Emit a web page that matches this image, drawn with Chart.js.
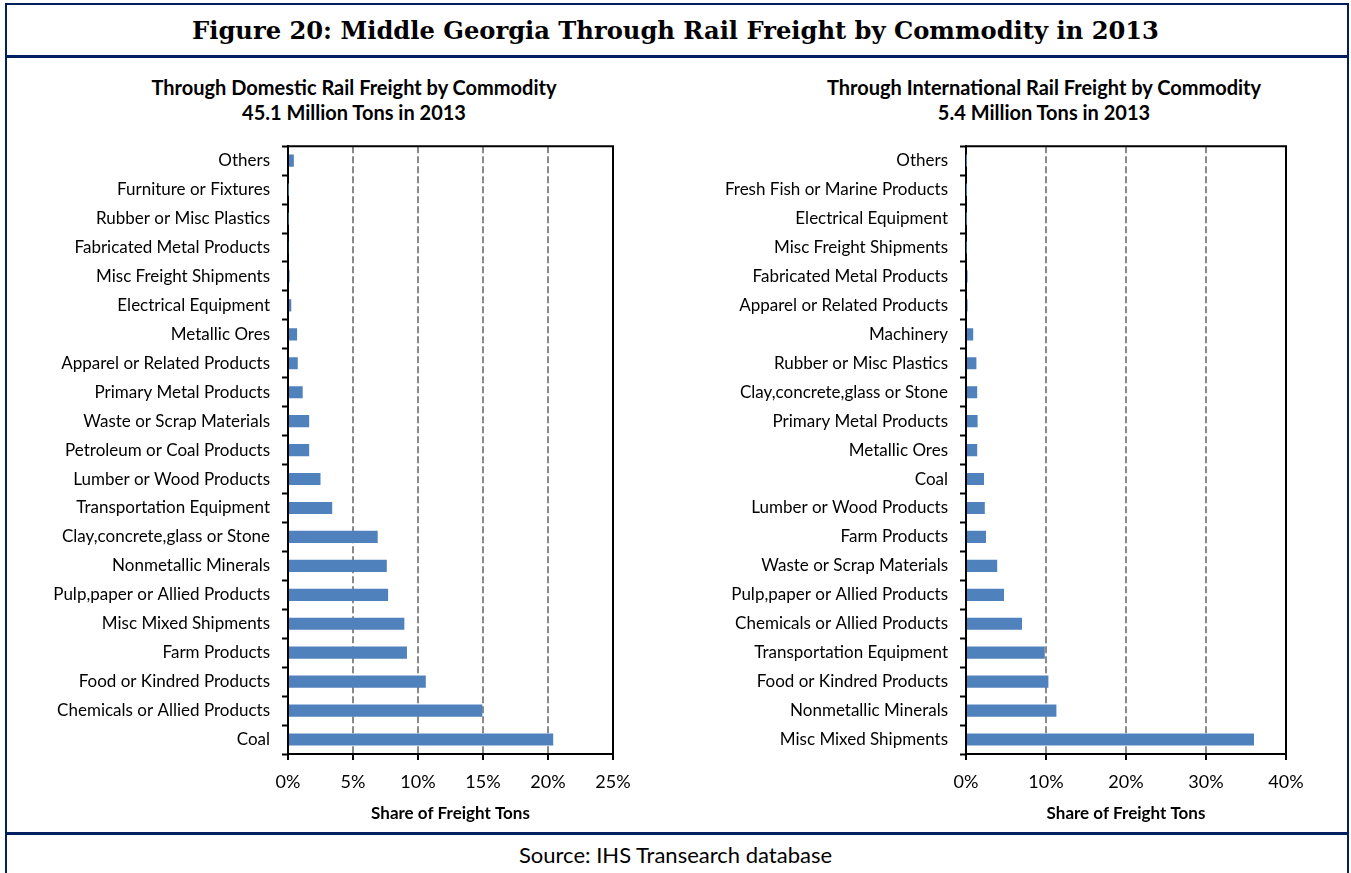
<!DOCTYPE html>
<html>
<head>
<meta charset="utf-8">
<title>Middle Georgia Through Rail Freight by Commodity in 2013</title>
<script src="https://cdn.jsdelivr.net/npm/chart.js@4.4.1/dist/chart.umd.min.js"></script>
<style>
  html, body { margin: 0; padding: 0; background: #fff; }
  body { width: 1351px; height: 873px; position: relative; overflow: hidden; font-family: Lato, "Open Sans", sans-serif; color: #000; }
  .frame { position: absolute; left: 5px; top: 3px; width: 1340px; height: 900px; border: 2px solid #002060; border-bottom: none; }
  .rule { position: absolute; left: 5px; width: 1344px; height: 3px; background: #002060; }
  #mainTitle { position: absolute; left: 0; top: 14px; width: 1351px; text-align: center; font: bold 24.2px "DejaVu Serif", serif; line-height: 34px; }
  .subTitle { position: absolute; top: 75px; text-align: center; font: bold 20px Lato, sans-serif; line-height: 25px; white-space: nowrap; }
  #footer { position: absolute; left: 0; top: 841px; width: 1351px; text-align: center; font: 22px Lato, sans-serif; line-height: 28px; }
  .box { position: absolute; top: 124px; height: 706px; }
</style>
</head>
<body>
<div class="frame"></div>
<div class="rule" style="top:55px"></div>
<div class="rule" style="top:832px"></div>
<div id="mainTitle">Figure 20: Middle Georgia Through Rail Freight by Commodity in 2013</div>

<div class="subTitle" style="left:134px;width:440px">Through Domestic Rail Freight by Commodity<br>45.1 Million Tons in 2013</div>
<div class="subTitle" style="left:804px;width:480px">Through International Rail Freight by Commodity<br>5.4 Million Tons in 2013</div>

<div class="box" style="left:0;width:680px"><canvas id="domestic" width="680" height="706"></canvas></div>
<div class="box" style="left:680px;width:671px"><canvas id="international" width="671" height="706"></canvas></div>

<div id="footer">Source: IHS Transearch database</div>

<script>
// Domestic through traffic: commodity share of 45.1 million tons (percent)
const domesticCommodities = [
  'Others', 'Furniture or Fixtures', 'Rubber or Misc Plastics', 'Fabricated Metal Products',
  'Misc Freight Shipments', 'Electrical Equipment', 'Metallic Ores', 'Apparel or Related Products',
  'Primary Metal Products', 'Waste or Scrap Materials', 'Petroleum or Coal Products',
  'Lumber or Wood Products', 'Transportation Equipment', 'Clay,concrete,glass or Stone',
  'Nonmetallic Minerals', 'Pulp,paper or Allied Products', 'Misc Mixed Shipments',
  'Farm Products', 'Food or Kindred Products', 'Chemicals or Allied Products', 'Coal'
];
const domesticShare = [
  0.45, 0.02, 0.03, 0.06, 0.12, 0.25, 0.7, 0.75, 1.13, 1.63, 1.63,
  2.5, 3.4, 6.9, 7.6, 7.7, 8.95, 9.15, 10.6, 14.95, 20.4
];
const domesticTicks = [0, 5, 10, 15, 20, 25];

// International through traffic: commodity share of 5.4 million tons (percent)
const internationalCommodities = [
  'Others', 'Fresh Fish or Marine Products', 'Electrical Equipment', 'Misc Freight Shipments',
  'Fabricated Metal Products', 'Apparel or Related Products', 'Machinery', 'Rubber or Misc Plastics',
  'Clay,concrete,glass or Stone', 'Primary Metal Products', 'Metallic Ores', 'Coal',
  'Lumber or Wood Products', 'Farm Products', 'Waste or Scrap Materials',
  'Pulp,paper or Allied Products', 'Chemicals or Allied Products', 'Transportation Equipment',
  'Food or Kindred Products', 'Nonmetallic Minerals', 'Misc Mixed Shipments'
];
const internationalShare = [
  0.01, 0.01, 0.02, 0.04, 0.2, 0.2, 0.9, 1.3, 1.4, 1.45, 1.4,
  2.25, 2.35, 2.5, 3.9, 4.75, 7.0, 9.85, 10.3, 11.3, 36.0
];
const internationalTicks = [0, 10, 20, 30, 40];

const axisTitle = 'Share of Freight Tons';
const barColor = '#4f81bd';

// outline the plot area on the top and right sides
const plotFrame = {
  id: 'plotFrame',
  afterDatasetsDraw(chart) {
    const a = chart.chartArea, ctx = chart.ctx;
    ctx.save();
    ctx.lineWidth = 2;
    ctx.strokeStyle = '#000';
    ctx.beginPath();
    ctx.moveTo(a.left, a.top);
    ctx.lineTo(a.right, a.top);
    ctx.lineTo(a.right, a.bottom);
    ctx.stroke();
    ctx.restore();
  }
};

function makeChart(id, labels, values, ticks, yWidth, rightPad) {
  const maxTick = ticks[ticks.length - 1];
  const step = ticks[1] - ticks[0];
  return new Chart(document.getElementById(id), {
    type: 'bar',
    data: {
      labels: labels,
      datasets: [{
        data: values,
        backgroundColor: barColor,
        borderWidth: 0,
        categoryPercentage: 1,
        barPercentage: 0.42
      }]
    },
    options: {
      indexAxis: 'y',
      responsive: false,
      animation: false,
      devicePixelRatio: 1,
      layout: { padding: { top: 0, right: rightPad, bottom: 6, left: 0 } },
      plugins: { legend: { display: false }, tooltip: { enabled: false } },
      scales: {
        x: {
          min: 0, max: maxTick,
          afterFit: s => { s.height = 70; },
          afterBuildTicks: s => { s.ticks = ticks.map(v => ({ value: v })); },
          ticks: {
            stepSize: step,
            padding: 11,
            color: '#000',
            font: { family: 'Lato', size: 18 },
            callback: v => v + '%'
          },
          grid: { color: '#8a8a8a', lineWidth: 2, tickColor: '#000', tickLength: 6, tickWidth: 2 },
          border: { color: '#000', width: 2, dash: [7, 3] },
          title: {
            display: true, text: axisTitle, color: '#000',
            font: { family: 'Lato', size: 17, weight: 'bold' },
            padding: { top: 0, bottom: 0 }
          }
        },
        y: {
          afterFit: s => { s.width = yWidth; },
          ticks: { padding: 12, color: '#000', font: { family: 'Lato', size: 17 }, autoSkip: false },
          grid: { drawOnChartArea: false, offset: true, tickColor: '#000', tickLength: 6, tickWidth: 2 },
          border: { color: '#000', width: 2 }
        }
      }
    },
    plugins: [plotFrame]
  });
}

makeChart('domestic', domesticCommodities, domesticShare, domesticTicks, 288, 67);
makeChart('international', internationalCommodities, internationalShare, internationalTicks, 286, 65);
</script>
</body>
</html>
